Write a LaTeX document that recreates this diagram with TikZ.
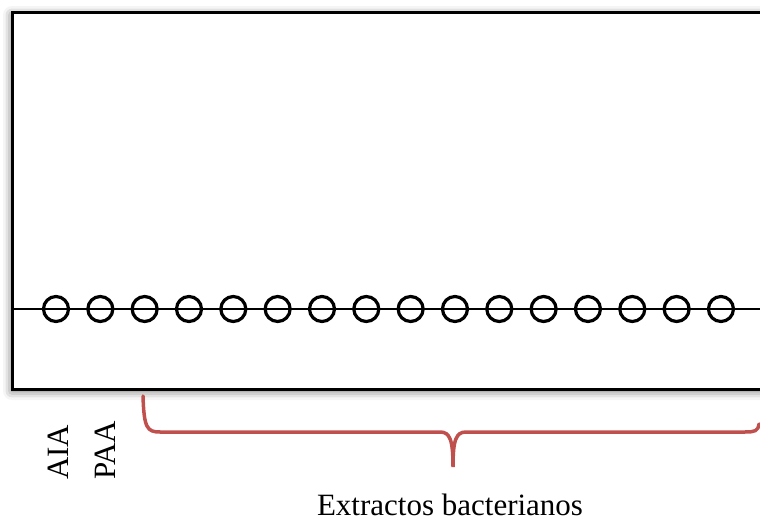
\documentclass[tikz,border=0pt]{standalone}
\usepackage{fontspec}
\setmainfont{Liberation Serif}
\usetikzlibrary{shadows.blur}
\definecolor{bracered}{HTML}{C0504D}
\tikzset{
  frame/.style={draw=black, line width=3pt, fill=white,
    blur shadow={shadow xshift=0pt, shadow yshift=-2pt, shadow blur radius=9pt, shadow opacity=60}},
  well/.style={circle, draw=black, line width=3.2pt, minimum size=25pt, inner sep=0pt},
  lane/.style={draw=black, line width=2pt},
  brace/.style={draw=bracered, line width=3.5pt, line cap=round},
  lbl/.style={font=\fontsize{31}{31}\selectfont, inner sep=0pt}
}
\begin{document}
\begin{tikzpicture}[x=1pt, y=-1pt]
\useasboundingbox (0,0) rectangle (760,521);
\clip (0,0) rectangle (760,521);
% plate outline, running off the right edge
\path[frame] (12,13) rectangle (800,389);
% sample line
\coordinate (l0) at (12,309);
\coordinate (l1) at (760,309);
\draw[lane] (l0) -- (l1);
% wells
\foreach \i in {0,...,15} {
  \node[well] (w\i) at ({56+44.33*\i},309) {};
}
% curly brace under the bacterial extracts
\coordinate (b0) at (143,396);
\coordinate (bm) at (453,467);
\coordinate (b1) at (759,424);
\draw[brace] (b0) .. controls (144,428) and (147,432) .. (160,432)
  -- (440,432) .. controls (450,432) and (453,440) .. (bm)
  .. controls (453,440) and (456,432) .. (466,432)
  -- (745,432) .. controls (755,432) and (758,431) .. (b1);
% labels
\node[lbl, rotate=90, anchor=base west] (aia) at (68,480) {AIA};
\node[lbl, rotate=90, anchor=base west] (paa) at (115,480) {PAA};
\node[lbl, anchor=base] (ext) at (450,515) {Extractos bacterianos};
\end{tikzpicture}
\end{document}
